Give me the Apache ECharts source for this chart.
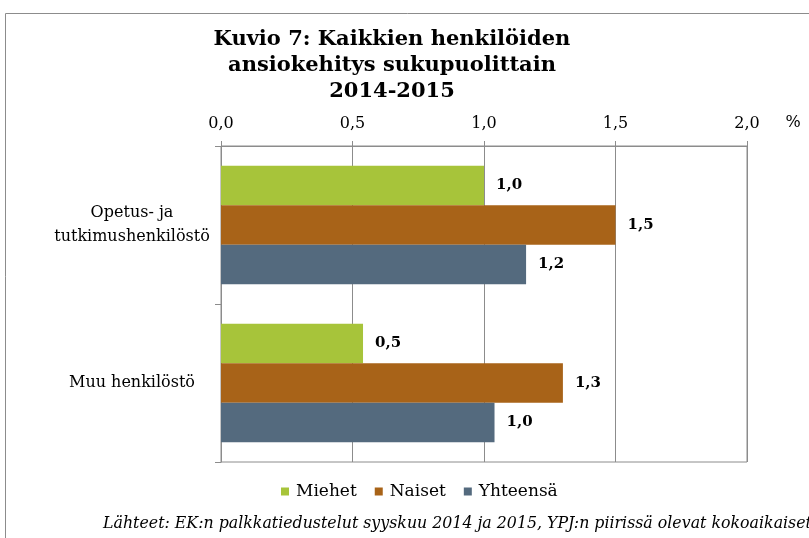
<!DOCTYPE html>
<html>
<head>
<meta charset="utf-8">
<script src="https://cdn.jsdelivr.net/npm/echarts@6/dist/echarts.min.js"></script>
<style>
  html, body { margin: 0; padding: 0; background: #fff; }
  #chart { width: 809px; height: 538px; }
</style>
</head>
<body>
<div id="chart"></div>
<script>
const categories = ['Opetus- ja\ntutkimushenkilöstö', 'Muu henkilöstö']
const miehet = [1.0, 0.54]
const naiset = [1.5, 1.3]
const yhteensa = [1.16, 1.04]
const seriesNames = ['Miehet', 'Naiset', 'Yhteensä']
const colors = ['#a7c43a', '#a86318', '#546a7e']

const font = '"DejaVu Serif", Georgia, serif'
const fmt = v => v.toFixed(1).replace('.', ',')

const chart = echarts.init(document.getElementById('chart'))

function bar(name, data, color) {
  return {
    name,
    type: 'bar',
    data,
    barGap: 0,
    barCategoryGap: '25%',
    itemStyle: { color },
    label: {
      show: true,
      position: 'right',
      distance: 12,
      formatter: p => fmt(p.value),
      fontFamily: font,
      fontWeight: 'bold',
      fontSize: 15,
      color: '#000',
    },
  }
}

chart.setOption({
  animation: false,
  color: colors,
  textStyle: { fontFamily: font },
  title: [
    {
      text: 'Kuvio 7: Kaikkien henkilöiden\nansiokehitys sukupuolittain\n2014-2015',
      left: 387,
      top: 22,
      textAlign: 'center',
      textStyle: { fontFamily: font, fontWeight: 'bold', fontSize: 21, lineHeight: 26, color: '#000' },
    },
    {
      text: 'Lähteet: EK:n palkkatiedustelut syyskuu 2014 ja 2015, YPJ:n piirissä olevat kokoaikaiset',
      left: 103,
      top: 516,
      padding: 0,
      textStyle: { fontFamily: font, fontStyle: 'italic', fontWeight: 'normal', fontSize: 15.8, color: '#000' },
    },
  ],
  graphic: [
    {
      type: 'rect',
      shape: { x: 5.5, y: 13.5, width: 900, height: 600 },
      style: { fill: 'none', stroke: '#8c8c8c', lineWidth: 1 },
      silent: true,
    },
    {
      type: 'text',
      x: 793,
      y: 123,
      style: { text: '%', fontFamily: font, fontSize: 16, fill: '#000', align: 'center', verticalAlign: 'middle' },
      silent: true,
    },
  ],
  legend: {
    data: seriesNames,
    left: 276,
    top: 478,
    itemWidth: 8,
    itemHeight: 8,
    itemGap: 18,
    icon: 'rect',
    textStyle: { fontFamily: font, fontSize: 17, color: '#000', padding: [0, 0, 0, 2] },
  },
  grid: {
    left: 221,
    right: 62,
    top: 146,
    bottom: 76,
    show: true,
    borderColor: '#8c8c8c',
    borderWidth: 1,
  },
  xAxis: {
    type: 'value',
    position: 'top',
    min: 0,
    max: 2,
    interval: 0.5,
    axisLine: { show: true, lineStyle: { color: '#8c8c8c' } },
    axisTick: { show: true, length: 5, lineStyle: { color: '#8c8c8c' } },
    axisLabel: { formatter: v => fmt(v), fontFamily: font, fontSize: 16, color: '#000', margin: 14 },
    splitLine: { show: true, lineStyle: { color: '#8c8c8c', width: 1 } },
  },
  yAxis: {
    type: 'category',
    data: categories,
    inverse: true,
    axisLine: { show: true, lineStyle: { color: '#8c8c8c' } },
    axisTick: { show: true, length: 6, lineStyle: { color: '#8c8c8c' } },
    axisLabel: {
      fontFamily: font,
      fontSize: 16,
      color: '#000',
      align: 'center',
      margin: 89,
      lineHeight: 24,
    },
  },
  series: [
    bar(seriesNames[0], miehet, colors[0]),
    bar(seriesNames[1], naiset, colors[1]),
    bar(seriesNames[2], yhteensa, colors[2]),
  ],
})
</script>
</body>
</html>
